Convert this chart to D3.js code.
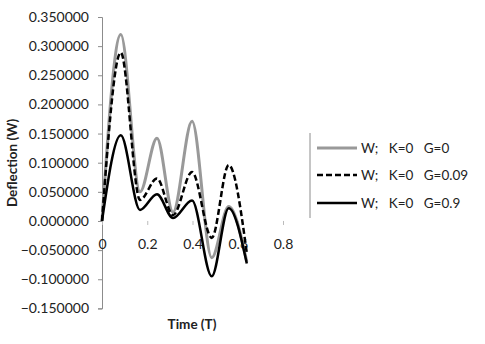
<!DOCTYPE html>
<html>
<head>
<meta charset="utf-8">
<script src="https://cdn.jsdelivr.net/npm/d3@7"></script>
<style>
  body { margin: 0; background: #fff; }
  svg text { font-family: Lato, "Open Sans", sans-serif; fill: #222; }
</style>
</head>
<body>
<div id="chart"></div>
<script>
// time points (T) at the turning points of the curves
var time = [0, 0.083, 0.168, 0.243, 0.314, 0.398, 0.485, 0.56, 0.64];
// deflection W for each G
var wG0   = [0, 0.320, 0.050, 0.142, 0.015, 0.171, -0.063, 0.025, -0.070];
var wG009 = [0, 0.289, 0.036, 0.073, 0.010, 0.084, -0.029, 0.096, -0.055];
var wG09  = [0, 0.147, 0.019, 0.046, 0.005, 0.035, -0.095, 0.022, -0.073];
var seriesNames = ["W;   K=0   G=0", "W;   K=0   G=0.09", "W;   K=0   G=0.9"];
var yTicks = [0.35, 0.3, 0.25, 0.2, 0.15, 0.1, 0.05, 0, -0.05, -0.1, -0.15];
var xTicks = [0, 0.2, 0.4, 0.6, 0.8];

var width = 485, height = 344;

var svg = d3.select("#chart").append("svg")
    .attr("width", width)
    .attr("height", height);

var x = d3.scaleLinear().domain([0, 0.8]).range([102, 283]);
var y = d3.scaleLinear().domain([-0.15, 0.35]).range([308.4, 17]);

// y axis
var yAxis = svg.append("g")
    .attr("transform", "translate(" + x(0) + ",0)")
    .call(d3.axisLeft(y).tickValues(yTicks).tickSize(4).tickPadding(9)
      .tickFormat(function(d) { return d3.format(".6f")(d); }));
yAxis.select(".domain").attr("stroke", "#8c8c8c");
yAxis.selectAll(".tick line").attr("stroke", "#8c8c8c");
yAxis.selectAll("text").style("font-size", "14px").attr("fill", "#222");

// x axis (ticks only, at W = 0)
var xAxis = svg.append("g")
    .attr("transform", "translate(0," + y(0) + ")")
    .call(d3.axisBottom(x).tickValues(xTicks).tickSize(4).tickPadding(14)
      .tickFormat(function(d) { return d === 0 ? "0" : d3.format(".1f")(d); }));
xAxis.select(".domain").remove();
xAxis.selectAll(".tick line").attr("stroke", "#bbb");
xAxis.selectAll("text").style("font-size", "14px").attr("fill", "#222");

// axis titles
svg.append("text")
    .attr("transform", "translate(17,163) rotate(-90)")
    .attr("text-anchor", "middle")
    .style("font-size", "13.5px")
    .style("font-weight", "bold")
    .text("Deflection (W)");

svg.append("text")
    .attr("x", 192).attr("y", 329)
    .attr("text-anchor", "middle")
    .style("font-size", "13.5px")
    .style("font-weight", "bold")
    .text("Time (T)");

var line = d3.line()
    .x(function(d) { return x(d[0]); })
    .y(function(d) { return y(d[1]); })
    .curve(d3.curveMonotoneX);

var styles = [
  {color: "#999", width: 3, dash: null},
  {color: "#000", width: 2.5, dash: "6,3"},
  {color: "#000", width: 2.5, dash: null}
];
var data = [wG0, wG009, wG09];

data.forEach(function(vals, i) {
  svg.append("path")
    .datum(d3.zip(time, vals))
    .attr("fill", "none")
    .attr("stroke", styles[i].color)
    .attr("stroke-width", styles[i].width)
    .attr("stroke-dasharray", styles[i].dash)
    .attr("d", line);
});

// legend
var legend = svg.append("g");
legend.append("line")
    .attr("x1", 310).attr("x2", 310)
    .attr("y1", 133).attr("y2", 218)
    .attr("stroke", "#8c8c8c");

var rowY = [148, 175, 203];
seriesNames.forEach(function(name, i) {
  legend.append("line")
    .attr("x1", 317).attr("x2", 357)
    .attr("y1", rowY[i]).attr("y2", rowY[i])
    .attr("stroke", styles[i].color)
    .attr("stroke-width", styles[i].width)
    .attr("stroke-dasharray", styles[i].dash);
  legend.append("text")
    .attr("x", 361).attr("y", rowY[i])
    .attr("dy", "0.35em")
    .style("font-size", "13.5px")
    .style("white-space", "pre")
    .attr("xml:space", "preserve")
    .text(name);
});
</script>
</body>
</html>
